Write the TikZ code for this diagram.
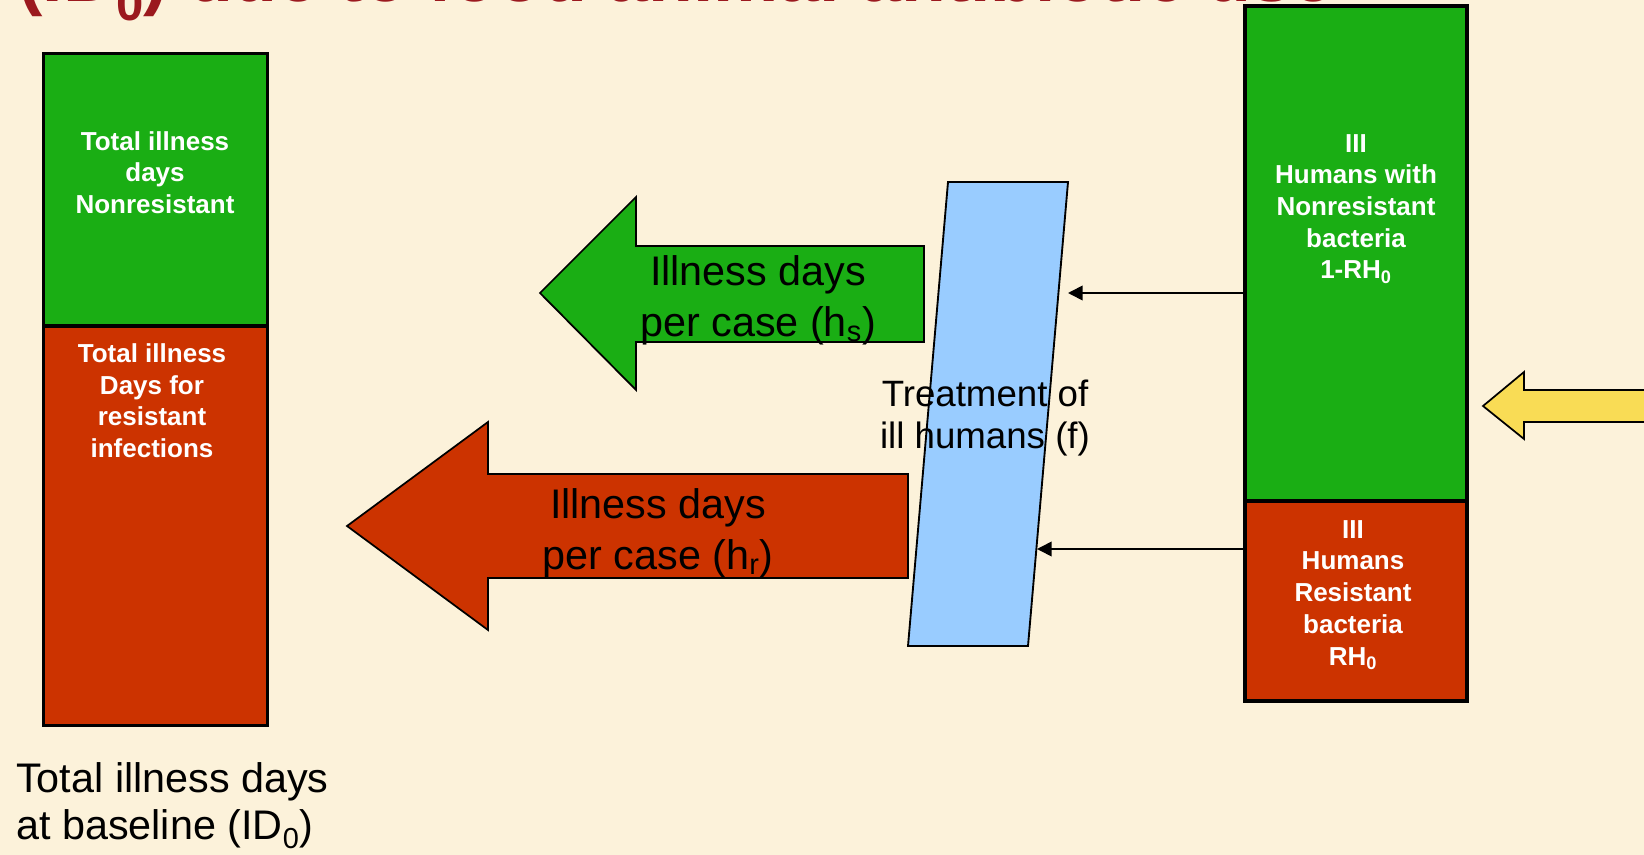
\documentclass[tikz,border=0pt]{standalone}
\usepackage{fontspec}
\usepackage{graphicx}
\setmainfont{Liberation Sans}
\usetikzlibrary{arrows.meta}
\definecolor{bg}{RGB}{252,242,218}
\definecolor{bargreen}{RGB}{26,174,20}
\definecolor{barred}{RGB}{204,51,0}
\definecolor{paraBlue}{RGB}{153,204,255}
\definecolor{arrYellow}{RGB}{249,220,85}
\definecolor{titleRed}{RGB}{155,25,30}
\newcommand\ttlsub[1]{\raisebox{-0.25em}{\scalebox{0.67}{#1}}}
\begin{document}
\begin{tikzpicture}[x=0.75pt,y=-0.75pt,
  barbox/.style={draw=black, line width=2.6pt, inner sep=0pt, minimum width=168pt},
  bartxt/.style={font=\fontsize{19.5}{23.8}\selectfont\bfseries, text=white, align=center, anchor=base, inner sep=0pt},
  bigarrow/.style={draw=black, line width=1.3pt, line join=miter},
  arrtxt/.style={font=\fontsize{31}{38.5}\selectfont, text=black, align=center, anchor=base, inner sep=0pt},
  thinarrow/.style={draw=black, line width=1.3pt, -{Triangle[length=11pt,width=11pt]}}
]
\useasboundingbox (0,0) rectangle (1644,855);
\clip (0,0) rectangle (1644,855);
\fill[bg] (0,0) rectangle (1644,855);

% title (cut off at top)
\node[anchor=base west, inner sep=0pt, font=\fontsize{55}{60}\selectfont\bfseries, text=titleRed] (title) at (18,2) {(ID\ttlsub{0}) due to food animal antibiotic use};

% left bar
\node[barbox, fill=bargreen, minimum height=204.4pt] (lg) at (155.5,189.75) {};
\node[barbox, fill=barred, minimum height=299.6pt] (lr) at (155.5,525.75) {};
\node[bartxt] (lgt) at (155,213.5) {Total illness\\days\\Nonresistant};
\node[bartxt] (lrt) at (152,457.5) {Total illness\\Days for\\resistant\\infections};

% bottom label
\node[anchor=base west, inner sep=0pt, align=left, font=\fontsize{31}{35.2}\selectfont] (base) at (16,839.5) {Total illness days\\at baseline (ID\textsubscript{0})};

% big arrows
\path[bigarrow, fill=bargreen] (540,293) -- (636,197) -- (636,246) -- (924,246) -- (924,342) -- (636,342) -- (636,390) -- cycle;
\node[arrtxt] (gat) at (758,336.5) {Illness days\\per case (h\textsubscript{s})};
\path[bigarrow, fill=barred] (347,526) -- (488,422) -- (488,474) -- (908,474) -- (908,578) -- (488,578) -- (488,630) -- cycle;
\node[arrtxt] (rat) at (658,569.5) {Illness days\\per case (h\textsubscript{r})};

% treatment parallelogram
\path[draw=black, line width=1.4pt, fill=paraBlue, line join=miter] (948,182) -- (1068,182) -- (1028,646) -- (908,646) -- cycle;
\node[anchor=base, inner sep=0pt, align=center, font=\fontsize{27.5}{31.5}\selectfont] (trt) at (985,448) {Treatment of\\ill humans (f)};

% right bar
\node[barbox, fill=bargreen, minimum width=166.5pt, minimum height=371.25pt] (rg) at (1356,253.5) {};
\node[barbox, fill=barred, minimum width=166.5pt, minimum height=150pt] (rr) at (1356,601) {};
\node[bartxt] (rgt) at (1356,279) {III\\Humans with\\Nonresistant\\bacteria\\1-RH\textsubscript{0}};
\node[bartxt] (rrt) at (1353,665) {III\\Humans\\Resistant\\bacteria\\RH\textsubscript{0}};

% thin arrows to treatment
\coordinate (t1) at (1068,293);
\coordinate (t2) at (1037,549);
\draw[thinarrow] (rg.west |- t1) -- (t1);
\draw[thinarrow] (rr.west |- t2) -- (t2);

% yellow arrow (enters from right)
\path[bigarrow, fill=arrYellow] (1483,406) -- (1524,372) -- (1524,390) -- (1700,390) -- (1700,422) -- (1524,422) -- (1524,439) -- cycle;
\end{tikzpicture}
\end{document}
